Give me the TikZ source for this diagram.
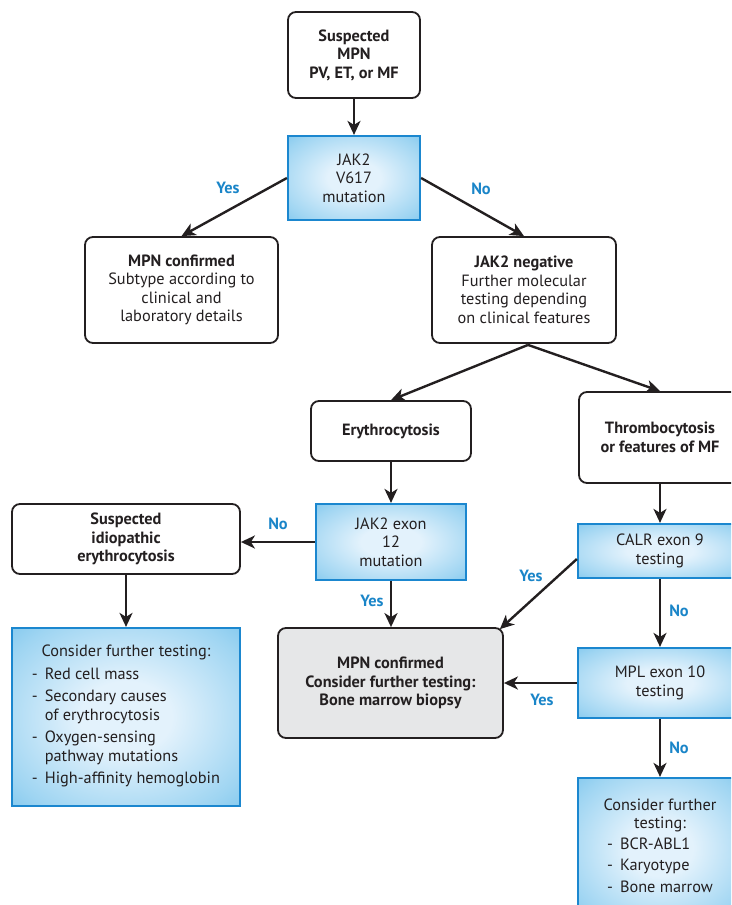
\documentclass[tikz,border=0pt]{standalone}
\usepackage{fontspec}
\setmainfont{PT Sans}
\usetikzlibrary{arrows.meta,calc}
\definecolor{ink}{HTML}{231F20}
\definecolor{bluebd}{HTML}{1B87CF}
\definecolor{bluec}{HTML}{E3F2FC}
\definecolor{bluem}{HTML}{9FD5F2}
\definecolor{bluee}{HTML}{4DB0E6}
\definecolor{lbl}{HTML}{1A85C8}
\definecolor{grayf}{HTML}{E6E7E8}
\pgfdeclareradialshading{bluegrad}{\pgfpoint{0bp}{0bp}}{color(0bp)=(bluec); color(10bp)=(bluec); color(30bp)=(bluem); color(50bp)=(bluee); color(75bp)=(bluee)}
\newcommand{\fs}{\fontsize{16.3}{18.5}\selectfont}
\tikzset{
  base/.style={align=center, inner sep=0pt, text=ink, font=\fs},
  box/.style={base, draw=ink, line width=1.8pt, rounded corners=8pt, fill=white},
  graybox/.style={box, fill=grayf},
  bluebox/.style={base, draw=bluebd, line width=2.2pt, shading=bluegrad},
  bold/.style={font=\fs\bfseries},
  arr/.style={draw=ink, line width=2.4pt, -{Stealth[length=14pt,width=13pt,inset=4pt]}},
  lab/.style={text=lbl, font=\fs\bfseries}
}
\begin{document}
\begin{tikzpicture}[x=1pt,y=-1pt]
\useasboundingbox (0,0) rectangle (731,905);
\clip (0,0) rectangle (731,905);
% nodes
\node[box, bold, minimum width=132, minimum height=86] (top) at (354,55) {Suspected\\MPN\\PV, ET, or MF};
\node[bluebox, minimum width=132, minimum height=84] (jak) at (354,178) {JAK2\\V617\\mutation};
\node[box, minimum width=193, minimum height=106] (mpn1) at (181.5,290) {\textbf{MPN confirmed}\\Subtype according to\\clinical and\\laboratory details};
\node[box, minimum width=184, minimum height=106] (neg) at (524,290) {\textbf{JAK2 negative}\\Further molecular\\testing depending\\on clinical features};
\node[box, bold, minimum width=160, minimum height=60] (ery) at (391,431) {Erythrocytosis};
\node[box, bold, minimum width=162, minimum height=91] (thr) at (660,437.5) {Thrombocytosis\\or features of MF};
\node[bluebox, minimum width=150, minimum height=76] (ex12) at (391,542) {JAK2 exon\\12\\mutation};
\node[box, bold, minimum width=228, minimum height=70] (idio) at (126,539) {Suspected\\idiopathic\\erythrocytosis};
\node[bluebox, minimum width=228, minimum height=178] (c1) at (126,717) {Consider further testing:\\[4pt]
  \begin{tabular}[t]{@{}l@{\hspace{7pt}}l@{}}
  -&Red cell mass\\[4pt]
  -&Secondary causes\\
   &of erythrocytosis\\[4pt]
  -&Oxygen-sensing\\
   &pathway mutations\\[4pt]
  -&High-affinity hemoglobin
  \end{tabular}};
\node[graybox, bold, minimum width=225, minimum height=110] (mpn2) at (390.5,683) {MPN confirmed\\Consider further testing:\\Bone marrow biopsy};
\node[bluebox, minimum width=164, minimum height=54] (calr) at (660,551) {CALR exon 9\\testing};
\node[bluebox, minimum width=164, minimum height=70] (mpl) at (660,683) {MPL exon 10\\testing};
\node[bluebox, minimum width=164, minimum height=140] (c2) at (660,848) {Consider further\\testing:\\[2pt]
  \begin{tabular}[t]{@{}l@{\hspace{7pt}}l@{}}
  -&BCR-ABL1\\[3pt]
  -&Karyotype\\[3pt]
  -&Bone marrow
  \end{tabular}};
% connectors
\draw[arr] (top) -- (jak);
\draw[arr] (jak.west) -- (mpn1.north);
\draw[arr] (jak.east) -- (neg.north);
\draw[arr] ($(neg.south)+(4,1)$) -- (ery.north);
\draw[arr] ($(neg.south)+(4,1)$) -- (thr.north);
\draw[arr] (ery) -- (ex12);
\draw[arr] (ex12.west) -- (idio.east |- ex12.west);
\draw[arr] (idio) -- (c1);
\draw[arr] (ex12) -- (mpn2.north -| ex12.south);
\draw[arr] (thr) -- (calr);
\draw[arr] ($(calr.west)+(0,8)$) -- ($(mpn2.north east)+(-4,2)$);
\draw[arr] (calr) -- (mpl);
\draw[arr] (mpl.west) -- (mpn2.east);
\draw[arr] (mpl) -- (c2);
% labels
\node[lab] (l1) at (228,188) {Yes};
\node[lab] (l2) at (481,189) {No};
\node[lab] (l3) at (278,524) {No};
\node[lab] (l4) at (372,601) {Yes};
\node[lab] (l5) at (531,576) {Yes};
\node[lab] (l6) at (679,611) {No};
\node[lab] (l7) at (542,700) {Yes};
\node[lab] (l8) at (679,748) {No};
\end{tikzpicture}
\end{document}
